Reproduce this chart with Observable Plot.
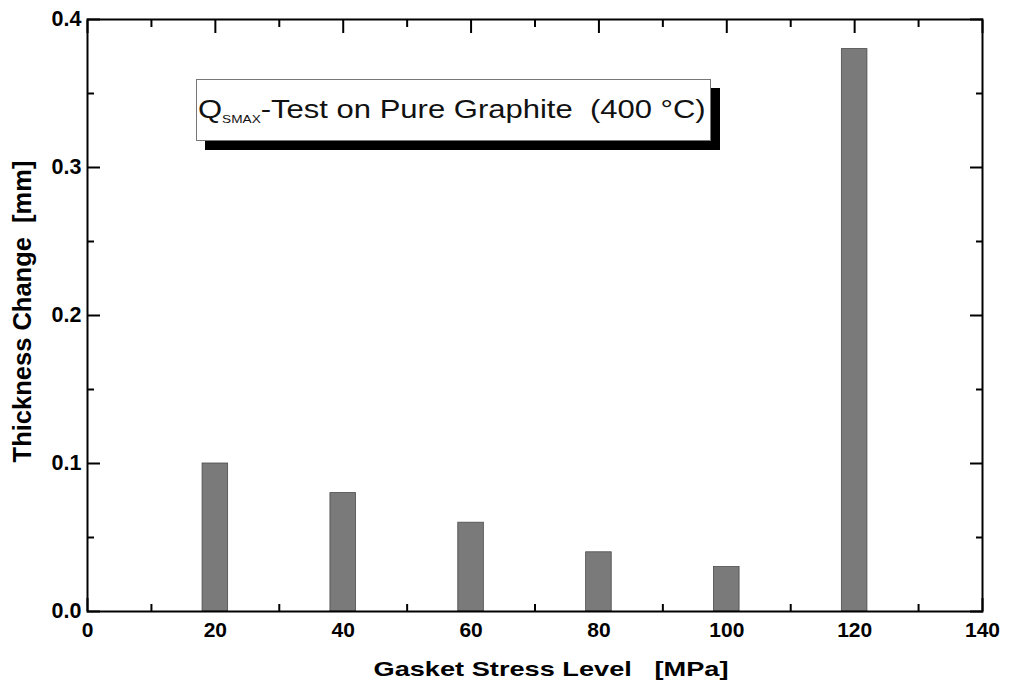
<!DOCTYPE html>
<html>
<head>
<meta charset="utf-8">
<script src="https://cdn.jsdelivr.net/npm/d3@7"></script>
<script src="https://cdn.jsdelivr.net/npm/@observablehq/plot@0.6"></script>
<style>
  html, body { margin: 0; padding: 0; background: #fff; }
  #wrap { position: relative; width: 1009px; height: 689px; font-family: "Liberation Sans", Arial, sans-serif; }
  #note {
    position: absolute; left: 196px; top: 79px; width: 515px; height: 62px;
    border: 1px solid #777; background: #fff; box-shadow: 9px 9px 0 #000;
    box-sizing: border-box; color: #111; white-space: pre; overflow: visible;
  }
  #note span {
    position: absolute; left: 1px; top: 14px; display: inline-block;
    font-size: 25px; line-height: 30px; transform: scaleX(1.24); transform-origin: 0 0;
  }
  #note sub { font-size: 11px; vertical-align: -5px; }
</style>
</head>
<body>
<div id="wrap"></div>
<script>
const stress = [20, 40, 60, 80, 100, 120];
const thickness = [0.10, 0.08, 0.06, 0.04, 0.03, 0.38];
const xMajor = [0, 20, 40, 60, 80, 100, 120, 140];
const xMinor = [10, 30, 50, 70, 90, 110, 130];
const yMajor = [0, 0.1, 0.2, 0.3, 0.4];
const yMinor = [0.05, 0.15, 0.25, 0.35];
const xTitle = "Gasket Stress Level\u00a0\u00a0\u00a0[MPa]";
const yTitle = "Thickness Change\u00a0\u00a0[mm]";
const barHalfWidth = 2;

const data = stress.map((s, i) => ({s, t: thickness[i]}));
const font = "Liberation Sans, Arial, sans-serif";

const tickOpts = {text: null, label: null, strokeWidth: 2};

const chart = Plot.plot({
  width: 1009,
  height: 689,
  marginLeft: 87,
  marginRight: 27,
  marginTop: 19,
  marginBottom: 78,
  style: {fontFamily: font, background: "#fff", color: "#000"},
  x: {domain: [0, 140]},
  y: {domain: [0, 0.4]},
  marks: [
    // inward ticks
    Plot.axisX(xMajor, {anchor: "bottom", tickSize: -13, ...tickOpts}),
    Plot.axisX(xMinor, {anchor: "bottom", tickSize: -7, ...tickOpts}),
    Plot.axisX(xMajor, {anchor: "top", tickSize: -13, ...tickOpts}),
    Plot.axisX(xMinor, {anchor: "top", tickSize: -7, ...tickOpts}),
    Plot.axisY(yMajor, {anchor: "left", tickSize: -13, ...tickOpts}),
    Plot.axisY(yMinor, {anchor: "left", tickSize: -7, ...tickOpts}),
    Plot.axisY(yMajor, {anchor: "right", tickSize: -13, ...tickOpts}),
    Plot.axisY(yMinor, {anchor: "right", tickSize: -7, ...tickOpts}),
    Plot.rectY(data, {x1: d => d.s - barHalfWidth, x2: d => d.s + barHalfWidth, y: "t", fill: "#7a7a7a", stroke: "#4a4a4a", strokeWidth: 0.8}),
    Plot.frame({stroke: "#000", strokeWidth: 2}),
    // labels
    Plot.axisX(xMajor, {anchor: "bottom", tickSize: 0, tickPadding: 11, tickFormat: d => String(d), fontSize: 21, fontWeight: "bold", label: null}),
    Plot.axisY(yMajor, {anchor: "left", tickSize: 0, tickPadding: 6, tickFormat: d => d.toFixed(1), fontSize: 21.5, fontWeight: "bold", label: null}),
    Plot.text([xTitle], {text: d => d, frameAnchor: "bottom", textAnchor: "middle", dx: 16, dy: 64, fontSize: 21, fontWeight: "bold", fill: "#000"}),
    Plot.text([yTitle], {text: d => d, frameAnchor: "left", textAnchor: "middle", dx: -65, dy: -4, rotate: -90, fontSize: 25.5, fontWeight: "bold", fill: "#000"})
  ]
});

const wrap = document.getElementById("wrap");
wrap.appendChild(chart);
d3.select(chart).selectAll("text").each(function () {
  if (this.textContent === xTitle) d3.select(this).attr("textLength", 355).attr("lengthAdjust", "spacingAndGlyphs");
});
const note = document.createElement("div");
note.id = "note";
note.innerHTML = "<span>Q<sub>SMAX</sub>-Test on Pure Graphite  (400 °C)</span>";
wrap.appendChild(note);
</script>
</body>
</html>
